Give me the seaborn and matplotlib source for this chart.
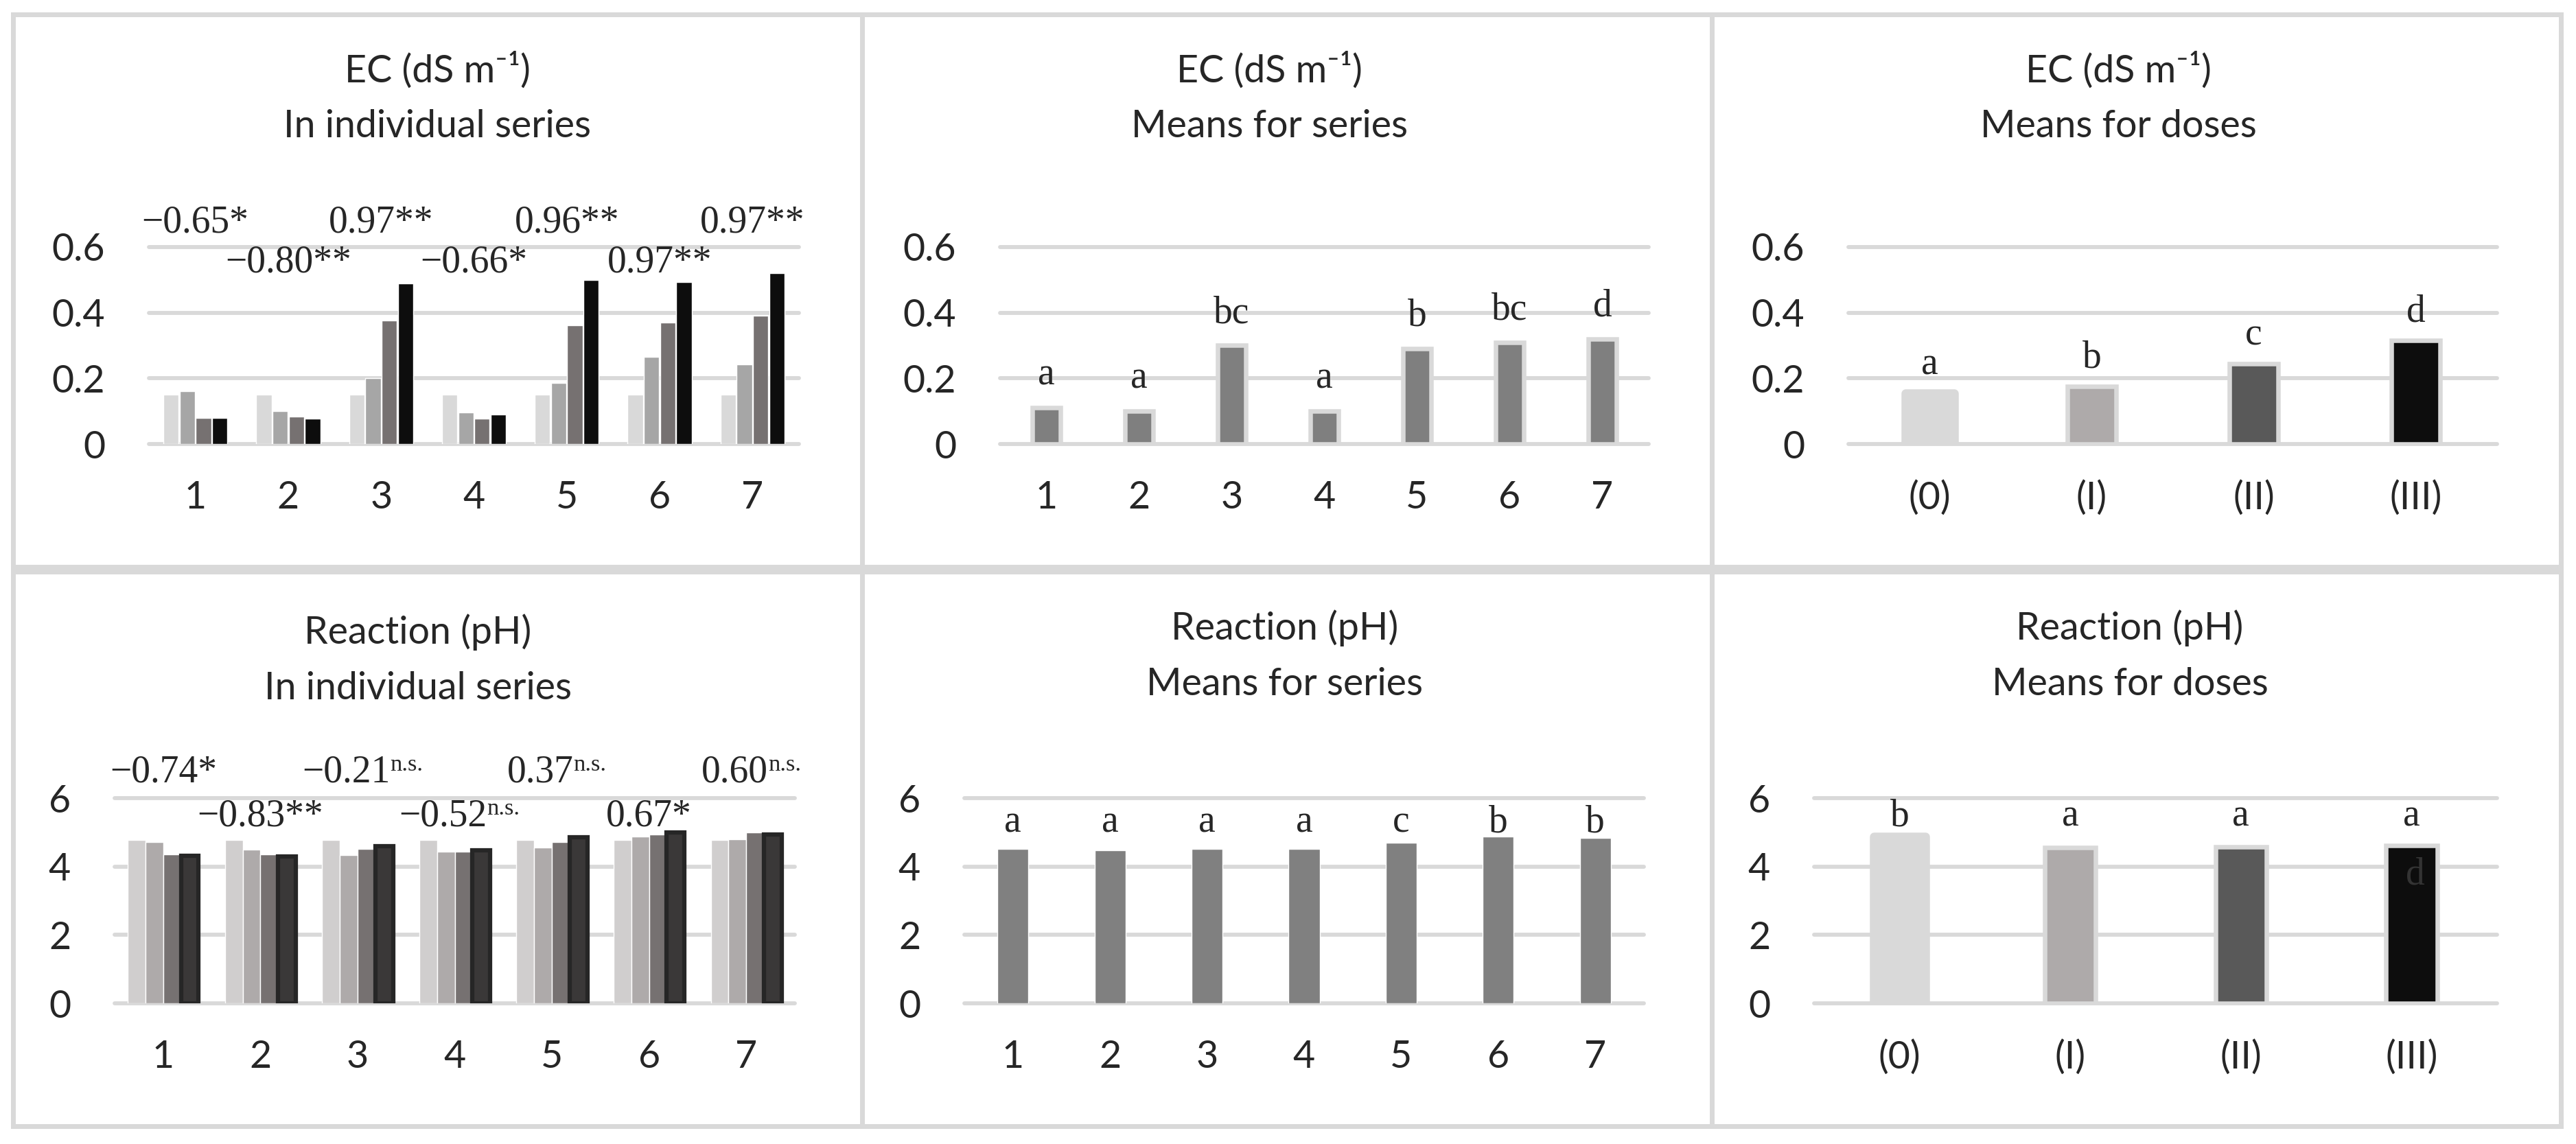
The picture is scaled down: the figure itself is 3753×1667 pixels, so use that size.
import numpy as np
import pandas as pd
import matplotlib
matplotlib.use("Agg")
import matplotlib.pyplot as plt
from matplotlib.patches import Rectangle
import seaborn as sns

sns.set_style("white")
plt.rcParams['font.family'] = ['Lato', 'DejaVu Sans']

# ---------------------------------------------------------------------------
# data
# ---------------------------------------------------------------------------
series_labels = ["1", "2", "3", "4", "5", "6", "7"]
dose_labels = ["(0)", "(I)", "(II)", "(III)"]

# EC (dS m-1), each dose in each series
ec_dose0 = [0.15, 0.15, 0.15, 0.15, 0.15, 0.15, 0.15]
ec_dose1 = [0.16, 0.10, 0.20, 0.097, 0.187, 0.266, 0.243]
ec_dose2 = [0.08, 0.083, 0.376, 0.078, 0.361, 0.369, 0.39]
ec_dose3 = [0.08, 0.078, 0.489, 0.089, 0.50, 0.493, 0.52]
ec_corr = ["\u22120.65", "\u22120.80", "0.97", "\u22120.66", "0.96", "0.97", "0.97"]
ec_sig = ["*", "**", "**", "*", "**", "**", "**"]

ec_series_means = [0.11, 0.10, 0.30, 0.10, 0.29, 0.31, 0.32]
ec_series_letters = ["a", "a", "bc", "a", "b", "bc", "d"]
ec_dose_means = [0.155, 0.175, 0.245, 0.315]
ec_dose_letters = ["a", "b", "c", "d"]

# Reaction (pH)
ph_dose0 = [4.77, 4.77, 4.77, 4.77, 4.77, 4.77, 4.77]
ph_dose1 = [4.71, 4.50, 4.34, 4.43, 4.55, 4.87, 4.80]
ph_dose2 = [4.36, 4.36, 4.52, 4.43, 4.72, 4.94, 4.99]
ph_dose3 = [4.31, 4.29, 4.59, 4.47, 4.85, 4.99, 4.93]
ph_corr = ["\u22120.74", "\u22120.83", "\u22120.21", "\u22120.52", "0.37", "0.67", "0.60"]
ph_sig = ["*", "**", "n.s.", "n.s.", "n.s.", "*", "n.s."]

ph_series_means = [4.52, 4.47, 4.52, 4.51, 4.70, 4.87, 4.84]
ph_series_letters = ["a", "a", "a", "a", "c", "b", "b"]
ph_dose_means = [4.88, 4.56, 4.58, 4.61]
ph_dose_letters = ["b", "a", "a", "a"]

ec_colors = ["#d9d9d9", "#a6a6a6", "#767171", "#0d0d0d"]
ph_colors = ["#d0cece", "#aeaaaa", "#767171", "#3a3838"]
dose_colors = ["#d9d9d9", "#aeaaaa", "#595959", "#0d0d0d"]
GRID = "#d9d9d9"

W, H = 3753, 1667
fig = plt.figure(figsize=(W / 100, H / 100), dpi=100)

SANS = 40
SERIF = 40


def px_axes(x0, x1, ytop, ybot):
    return fig.add_axes([x0 / W, 1 - ybot / H, (x1 - x0) / W, (ybot - ytop) / H])


def long_df(cols):
    rows = []
    for d, vals in zip(dose_labels, cols):
        for s, v in zip(series_labels, vals):
            rows.append((s, d, v))
    return pd.DataFrame(rows, columns=["series", "dose", "value"])


def style(ax, ticks, ticklabels, top):
    ax.set_ylim(0, top)
    ax.set_yticks(ticks)
    ax.set_yticklabels(ticklabels)
    ax.set_xlabel("")
    ax.set_ylabel("")
    for s in ax.spines.values():
        s.set_visible(False)
    ax.set_axisbelow(True)
    ax.yaxis.grid(True, color=GRID, linewidth=4.2)
    ax.xaxis.grid(False)
    for gl in ax.yaxis.get_gridlines():
        gl.set_clip_on(False)
    ax.tick_params(axis="y", length=0, pad=46, labelsize=SANS)
    ax.tick_params(axis="x", length=0, pad=38, labelsize=SANS)
    ax.set_facecolor("none")


def title(xc, y1, line1, line2):
    fig.text(xc / W, 1 - y1 / H, line1, ha="center", va="center", fontsize=SANS)
    fig.text(xc / W, 1 - (y1 + 82) / H, line2, ha="center", va="center", fontsize=SANS)


def corr_labels(ax, values, sigs, hi, lo):
    for i, (v, s) in enumerate(zip(values, sigs)):
        yy = hi if i % 2 == 0 else lo
        if s == "n.s.":
            t = ax.text(i - 0.12, yy, v, transform=ax.get_xaxis_transform(), ha="center",
                        va="baseline", fontsize=SERIF, family="Liberation Serif")
            ax.annotate(s, xy=(1, 1.0), xycoords=t, ha="left", va="top",
                        fontsize=SERIF * 0.62, family="Liberation Serif")
        else:
            ax.text(i, yy, v + s, transform=ax.get_xaxis_transform(), ha="center",
                    va="baseline", fontsize=SERIF, family="Liberation Serif")


ec_ticks = [0, 0.2, 0.4, 0.6]
ec_tl = ["0", "0.2", "0.4", "0.6"]
ph_ticks = [0, 2, 4, 6]
ph_tl = ["0", "2", "4", "6"]

# --- panel 1: EC in individual series
ax1 = px_axes(217, 1164, 360, 647)
sns.barplot(data=long_df([ec_dose0, ec_dose1, ec_dose2, ec_dose3]), x="series", y="value",
            hue="dose", palette=ec_colors, saturation=1, width=0.7, gap=0.06,
            legend=False, ax=ax1)
style(ax1, ec_ticks, ec_tl, 0.6)
corr_labels(ax1, ec_corr, ec_sig, 1.075, 0.872)
title(637, 103, "EC (dS m\u207b\u00b9)", "In individual series")

# --- panel 2: EC means for series
ax2 = px_axes(1457, 2402, 360, 647)
sns.barplot(x=series_labels, y=ec_series_means, color="#7f7f7f", saturation=1, width=0.31,
            edgecolor=GRID, linewidth=4.7, ax=ax2)
style(ax2, ec_ticks, ec_tl, 0.6)
for i, (v, lab) in enumerate(zip(ec_series_means, ec_series_letters)):
    ax2.text(i, v + 0.07, lab, ha="center", va="baseline", fontsize=SERIF,
             family="Liberation Serif")
title(1849, 103, "EC (dS m\u207b\u00b9)", "Means for series")

# --- panel 3: EC means for doses
ax3 = px_axes(2693, 3638, 360, 647)
sns.barplot(x=dose_labels, y=ec_dose_means, hue=dose_labels, palette=dose_colors,
            saturation=1, width=0.30, edgecolor=GRID, linewidth=4.7, legend=False, ax=ax3)
style(ax3, ec_ticks, ec_tl, 0.6)
for p in ax3.containers[0]:
    p.set_linewidth(9)
    p.set_joinstyle("round")
for i, (v, lab) in enumerate(zip(ec_dose_means, ec_dose_letters)):
    ax3.text(i, v + 0.058, lab, ha="center", va="baseline", fontsize=SERIF,
             family="Liberation Serif")
title(3086, 103, "EC (dS m\u207b\u00b9)", "Means for doses")

# --- panel 4: pH in individual series
ax4 = px_axes(167, 1158, 1163, 1462)
sns.barplot(data=long_df([ph_dose0, ph_dose1, ph_dose2, ph_dose3]), x="series", y="value",
            hue="dose", palette=ph_colors, saturation=1, width=0.73, gap=0.0,
            legend=False, ax=ax4)
style(ax4, ph_ticks, ph_tl, 6)
for p in ax4.containers[3]:
    p.set_edgecolor("#262626")
    p.set_linewidth(4.5)
corr_labels(ax4, ph_corr, ph_sig, 1.077, 0.863)
title(609, 921, "Reaction (pH)", "In individual series")

# --- panel 5: pH means for series
ax5 = px_axes(1405, 2395, 1163, 1462)
sns.barplot(x=series_labels, y=ph_series_means, color="#808080", saturation=1, width=0.32,
            ax=ax5)
style(ax5, ph_ticks, ph_tl, 6)
lab_y = max(ph_series_means) + 0.13
for i, lab in enumerate(ph_series_letters):
    ax5.text(i, lab_y, lab, ha="center", va="baseline", fontsize=SERIF,
             family="Liberation Serif")
title(1872, 915, "Reaction (pH)", "Means for series")

# --- panel 6: pH means for doses
ax6 = px_axes(2643, 3638, 1163, 1462)
sns.barplot(x=dose_labels, y=ph_dose_means, hue=dose_labels, palette=dose_colors,
            saturation=1, width=0.30, edgecolor=GRID, linewidth=4.7, legend=False, ax=ax6)
style(ax6, ph_ticks, ph_tl, 6)
for p in ax6.containers[0]:
    p.set_linewidth(9)
    p.set_joinstyle("round")
lab_y = max(ph_dose_means) + 0.3
for i, lab in enumerate(ph_dose_letters):
    ax6.text(i, lab_y, lab, ha="center", va="baseline", fontsize=SERIF,
             family="Liberation Serif")
# leftover label hidden inside the last bar
ax6.text(3.02, ph_dose_means[3] - 1.12, "d", ha="center", va="baseline", fontsize=SERIF,
         family="Liberation Serif", color="#333333")
title(3103, 915, "Reaction (pH)", "Means for doses")

# panel frames
cols = [(15, 1259), (1252, 2497), (2490, 3734)]
rows = [(18, 830), (830, 1644)]
for (y0, y1) in rows:
    for (x0, x1) in cols:
        fig.patches.append(Rectangle(((x0 + 3.5) / W, 1 - (y1 - 3.5) / H),
                                     (x1 - x0 - 7) / W, (y1 - y0 - 7) / H,
                                     transform=fig.transFigure, fill=False,
                                     edgecolor=GRID, linewidth=5.04, zorder=-1))

fig.savefig("out.png", dpi=100)
